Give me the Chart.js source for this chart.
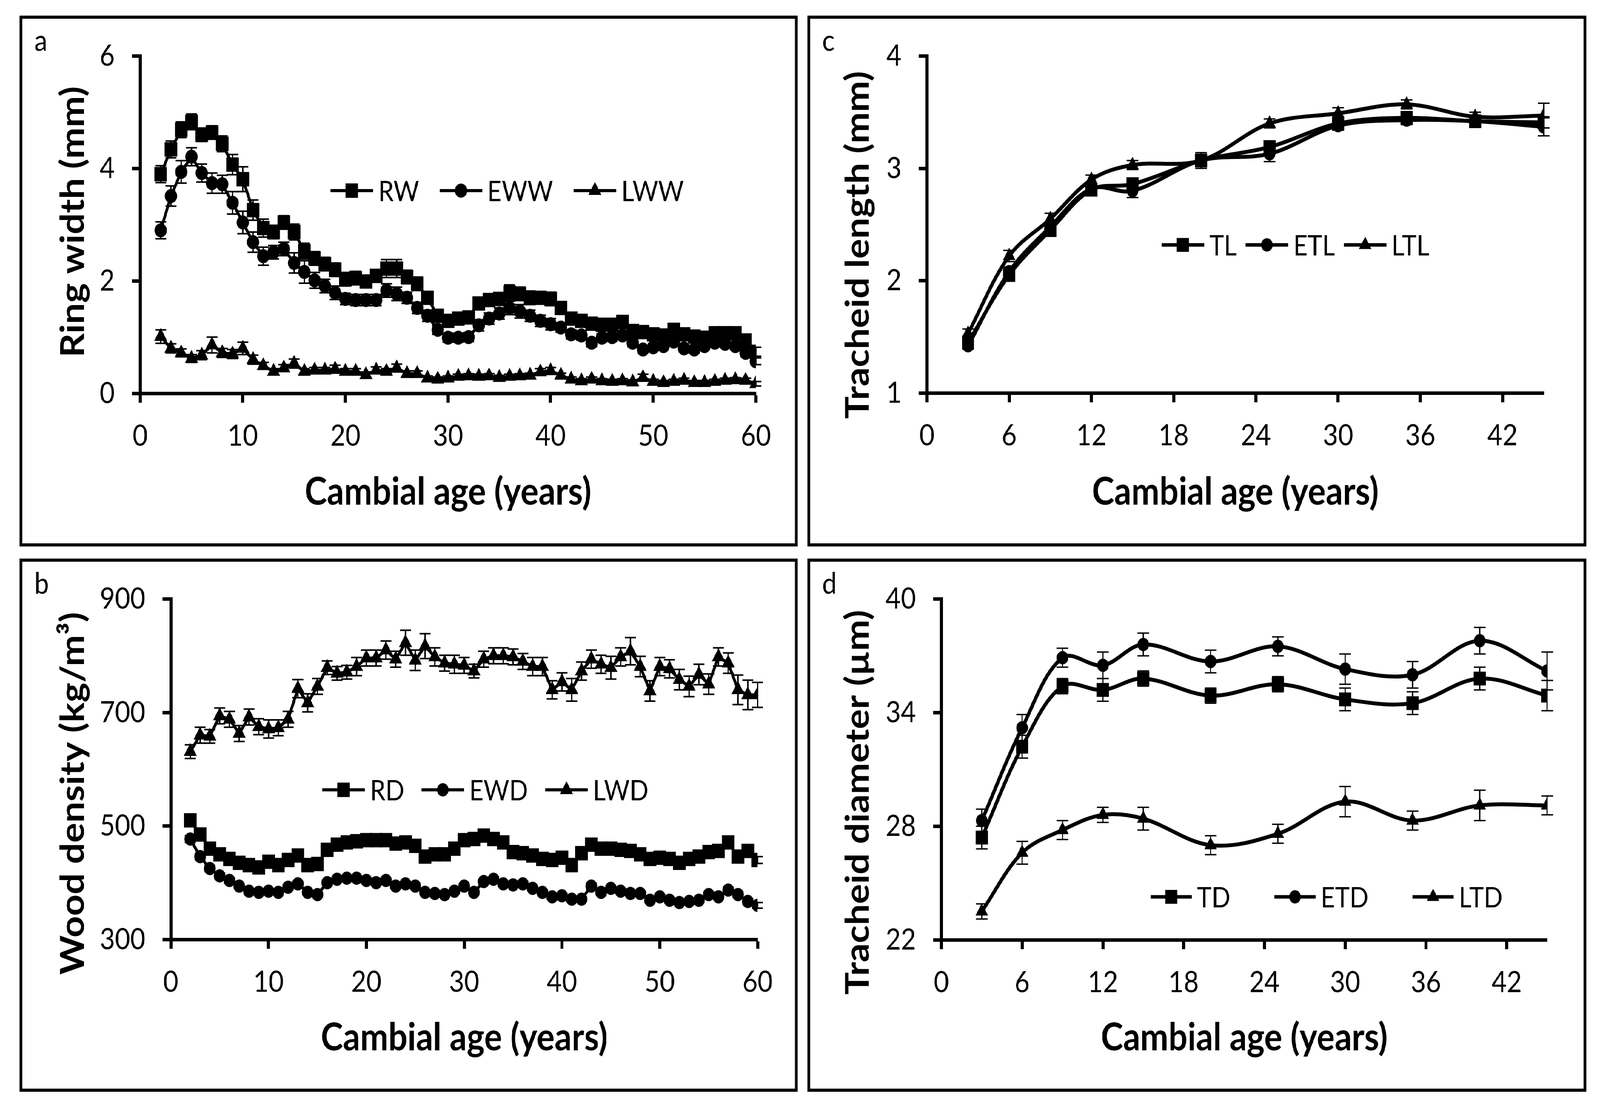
<!DOCTYPE html>
<html>
<head>
<meta charset="utf-8">
<script src="https://cdn.jsdelivr.net/npm/chart.js@4.4.1/dist/chart.umd.min.js"></script>
<style>
  html, body { margin: 0; padding: 0; background: #fff; overflow: hidden; }
  #page { width: 4657px; height: 2834px; position: absolute; left: 0; top: 0; transform-origin: 0 0; background: #fff; }
  .panel { position: absolute; border: 8px solid #000; box-sizing: border-box; background: #fff; }
  .panel .inner { position: relative; width: 100%; height: 100%; }
</style>
</head>
<body>
<div id="page">
  <div class="panel" style="left:57px;top:40px;width:2265px;height:1359px"><div class="inner"><canvas id="chartA"></canvas></div></div>
  <div class="panel" style="left:2350px;top:40px;width:2267px;height:1359px"><div class="inner"><canvas id="chartC"></canvas></div></div>
  <div class="panel" style="left:57px;top:1430px;width:2265px;height:1365px"><div class="inner"><canvas id="chartB"></canvas></div></div>
  <div class="panel" style="left:2350px;top:1430px;width:2267px;height:1365px"><div class="inner"><canvas id="chartD"></canvas></div></div>
</div>
<script>
// cambial ages for ring width and density (panels a, b)
const ages = [2, 3, 4, 5, 6, 7, 8, 9, 10, 11,
  12, 13, 14, 15, 16, 17, 18, 19, 20, 21,
  22, 23, 24, 25, 26, 27, 28, 29, 30, 31,
  32, 33, 34, 35, 36, 37, 38, 39, 40, 41,
  42, 43, 44, 45, 46, 47, 48, 49, 50, 51,
  52, 53, 54, 55, 56, 57, 58, 59, 60];

// sampled ages for tracheid panels (c, d)
const tracheidAges = [3, 6, 9, 12, 15, 20, 25, 30, 35, 40, 45];

// panel a: ring width (mm)
const rw = [3.90, 4.34, 4.69, 4.83, 4.60, 4.64, 4.44, 4.07, 3.81, 3.26,
  2.94, 2.87, 3.04, 2.87, 2.53, 2.40, 2.30, 2.20, 2.03, 2.05,
  1.99, 2.09, 2.22, 2.22, 2.07, 1.95, 1.70, 1.38, 1.29, 1.33,
  1.35, 1.60, 1.66, 1.68, 1.79, 1.77, 1.70, 1.70, 1.68, 1.52,
  1.33, 1.29, 1.24, 1.22, 1.22, 1.27, 1.11, 1.09, 1.05, 1.03,
  1.13, 1.05, 1.01, 0.99, 1.07, 1.07, 1.07, 0.94, 0.74];
const rwErr = [0.15, 0.15, 0.14, 0.14, 0.12, 0.12, 0.14, 0.18, 0.22, 0.18,
  0.16, 0.12, 0.12, 0.14, 0.14, 0.12, 0.12, 0.12, 0.12, 0.12,
  0.10, 0.10, 0.16, 0.16, 0.12, 0.12, 0.10, 0.10, 0.10, 0.08,
  0.08, 0.10, 0.10, 0.10, 0.14, 0.12, 0.12, 0.10, 0.12, 0.10,
  0.08, 0.08, 0.08, 0.08, 0.08, 0.08, 0.07, 0.07, 0.07, 0.07,
  0.07, 0.07, 0.07, 0.07, 0.07, 0.07, 0.07, 0.08, 0.08];
const eww = [2.90, 3.51, 3.94, 4.21, 3.92, 3.74, 3.72, 3.39, 3.04, 2.69,
  2.44, 2.51, 2.57, 2.32, 2.16, 2.01, 1.91, 1.79, 1.68, 1.66,
  1.66, 1.66, 1.83, 1.77, 1.70, 1.52, 1.38, 1.13, 0.99, 0.99,
  1.00, 1.21, 1.33, 1.42, 1.52, 1.46, 1.38, 1.29, 1.23, 1.17,
  1.05, 1.03, 0.90, 0.99, 1.00, 1.03, 0.90, 0.78, 0.82, 0.84,
  0.92, 0.80, 0.78, 0.84, 0.90, 0.88, 0.84, 0.72, 0.57];
const ewwErr = [0.15, 0.18, 0.20, 0.16, 0.16, 0.18, 0.16, 0.20, 0.20, 0.18,
  0.16, 0.12, 0.12, 0.18, 0.20, 0.14, 0.12, 0.12, 0.10, 0.10,
  0.10, 0.10, 0.12, 0.12, 0.10, 0.10, 0.10, 0.08, 0.08, 0.08,
  0.08, 0.10, 0.10, 0.10, 0.12, 0.12, 0.10, 0.10, 0.10, 0.08,
  0.08, 0.08, 0.07, 0.07, 0.07, 0.07, 0.07, 0.06, 0.06, 0.06,
  0.06, 0.06, 0.06, 0.06, 0.06, 0.06, 0.06, 0.06, 0.06];
const lww = [1.01, 0.80, 0.72, 0.62, 0.68, 0.86, 0.72, 0.70, 0.80, 0.60,
  0.49, 0.39, 0.45, 0.53, 0.39, 0.41, 0.41, 0.43, 0.39, 0.39,
  0.33, 0.41, 0.39, 0.45, 0.35, 0.35, 0.27, 0.25, 0.27, 0.30,
  0.31, 0.30, 0.31, 0.28, 0.30, 0.31, 0.32, 0.38, 0.40, 0.32,
  0.25, 0.22, 0.25, 0.22, 0.21, 0.22, 0.20, 0.28, 0.21, 0.19,
  0.21, 0.23, 0.19, 0.19, 0.21, 0.23, 0.24, 0.23, 0.17];
const lwwErr = [0.12, 0.08, 0.07, 0.07, 0.08, 0.14, 0.08, 0.08, 0.11, 0.08,
  0.06, 0.05, 0.06, 0.08, 0.05, 0.05, 0.05, 0.07, 0.05, 0.05,
  0.05, 0.06, 0.05, 0.07, 0.05, 0.05, 0.04, 0.04, 0.04, 0.04,
  0.04, 0.04, 0.04, 0.04, 0.04, 0.04, 0.04, 0.06, 0.06, 0.04,
  0.04, 0.04, 0.04, 0.04, 0.04, 0.04, 0.04, 0.06, 0.04, 0.04,
  0.04, 0.04, 0.04, 0.04, 0.04, 0.04, 0.04, 0.04, 0.04];

// panel b: wood density (kg/m3)
const rd = [510, 485, 460, 450, 442, 435, 431, 427, 437, 431,
  440, 448, 431, 433, 458, 467, 471, 473, 475, 475,
  475, 469, 471, 465, 446, 450, 450, 460, 475, 477,
  483, 477, 471, 454, 452, 448, 442, 440, 444, 431,
  452, 467, 460, 460, 458, 456, 450, 442, 444, 442,
  435, 442, 446, 454, 456, 471, 446, 456, 440];
const rdErr = [7, 6, 6, 5, 5, 5, 5, 5, 5, 5,
  5, 6, 5, 5, 6, 6, 6, 6, 6, 6,
  6, 6, 6, 6, 5, 5, 5, 6, 6, 6,
  6, 6, 6, 5, 5, 5, 5, 5, 5, 5,
  5, 6, 5, 5, 5, 5, 5, 5, 5, 5,
  5, 5, 5, 5, 5, 6, 6, 6, 6];
const ewd = [477, 446, 425, 412, 404, 394, 385, 383, 385, 383,
  392, 398, 383, 379, 400, 406, 408, 408, 404, 400,
  404, 394, 398, 394, 383, 381, 379, 385, 394, 383,
  402, 406, 398, 396, 398, 390, 383, 375, 377, 371,
  371, 394, 383, 390, 385, 381, 381, 369, 375, 369,
  365, 367, 369, 379, 375, 387, 379, 367, 360];
const ewdErr = [6, 5, 5, 5, 4, 4, 4, 4, 4, 4,
  4, 4, 4, 4, 4, 4, 4, 4, 4, 4,
  4, 4, 4, 4, 4, 4, 4, 4, 4, 4,
  4, 4, 4, 4, 4, 4, 4, 4, 4, 4,
  4, 5, 4, 4, 4, 4, 4, 4, 4, 4,
  4, 4, 4, 4, 4, 5, 5, 5, 5];
const lwd = [631, 660, 658, 694, 688, 663, 692, 675, 671, 673,
  688, 742, 717, 746, 779, 769, 771, 781, 796, 796,
  810, 794, 823, 792, 817, 798, 787, 785, 783, 773,
  794, 800, 800, 798, 790, 781, 781, 740, 754, 740,
  773, 794, 785, 779, 798, 808, 781, 738, 781, 777,
  758, 746, 767, 750, 798, 787, 740, 731, 731];
const lwdErr = [12, 14, 12, 14, 14, 14, 14, 14, 16, 14,
  14, 16, 16, 14, 12, 12, 12, 16, 14, 14,
  16, 14, 22, 18, 22, 16, 14, 16, 14, 12,
  14, 14, 14, 14, 14, 16, 16, 16, 16, 20,
  16, 16, 16, 20, 16, 24, 18, 18, 16, 16,
  18, 18, 18, 18, 16, 18, 26, 26, 22];

// panel c: tracheid length (mm)
const tl = [1.45, 2.05, 2.45, 2.81, 2.86, 3.07, 3.19, 3.40, 3.45, 3.42, 3.41];
const tlErr = [0.03, 0.04, 0.04, 0.04, 0.05, 0.04, 0.05, 0.04, 0.04, 0.03, 0.05];
const etl = [1.42, 2.08, 2.48, 2.82, 2.80, 3.07, 3.13, 3.38, 3.43, 3.42, 3.37];
const etlErr = [0.03, 0.04, 0.04, 0.04, 0.06, 0.04, 0.07, 0.04, 0.04, 0.03, 0.08];
const ltl = [1.53, 2.22, 2.55, 2.90, 3.03, 3.07, 3.40, 3.49, 3.57, 3.46, 3.47];
const ltlErr = [0.04, 0.05, 0.05, 0.04, 0.04, 0.07, 0.04, 0.05, 0.04, 0.04, 0.11];

// panel d: tracheid diameter (um)
const td = [27.4, 32.2, 35.4, 35.2, 35.8, 34.9, 35.5, 34.7, 34.5, 35.8, 34.9];
const tdErr = [0.6, 0.6, 0.4, 0.6, 0.4, 0.4, 0.4, 0.6, 0.6, 0.6, 0.8];
const etd = [28.3, 33.2, 36.9, 36.5, 37.6, 36.7, 37.5, 36.3, 36.0, 37.8, 36.2];
const etdErr = [0.6, 0.7, 0.5, 0.7, 0.6, 0.6, 0.5, 0.8, 0.7, 0.7, 1.0];
const ltd = [23.5, 26.6, 27.8, 28.6, 28.4, 27.0, 27.6, 29.3, 28.3, 29.1, 29.1];
const ltdErr = [0.4, 0.6, 0.5, 0.4, 0.6, 0.5, 0.5, 0.8, 0.5, 0.8, 0.5];

const FONT = "Lato";

// stretch the fixed-size figure over the whole viewport
const page = document.getElementById("page");
const sx = window.innerWidth / 4657;
const sy = window.innerHeight / 2834;
page.style.transform = `scale(${sx}, ${sy})`;

// draw a marker with the same geometry Chart.js uses
function drawMarker(ctx, style, r, x, y) {
  ctx.beginPath();
  if (style === "rect") {
    const s = Math.SQRT1_2 * r;
    ctx.rect(x - s, y - s, 2 * s, 2 * s);
  } else if (style === "triangle") {
    const a = (2 * Math.PI) / 3;
    ctx.moveTo(x, y - r);
    ctx.lineTo(x + Math.sin(a) * r, y - Math.cos(a) * r);
    ctx.lineTo(x + Math.sin(2 * a) * r, y - Math.cos(2 * a) * r);
    ctx.closePath();
  } else {
    ctx.arc(x, y, r, 0, Math.PI * 2);
  }
  ctx.fill();
}

// vertical error bars with caps, drawn under the lines
const errorBarPlugin = {
  id: "errorBars",
  beforeDatasetsDraw(chart, args, opts) {
    const { ctx } = chart;
    const xs = chart.scales.x;
    const ys = chart.scales.y;
    ctx.save();
    ctx.strokeStyle = "#000";
    ctx.lineWidth = opts.width;
    chart.data.datasets.forEach((ds) => {
      if (!ds.errors) return;
      ds.data.forEach((p, i) => {
        const e = ds.errors[i];
        const px = xs.getPixelForValue(p.x);
        const top = ys.getPixelForValue(p.y + e);
        const bot = ys.getPixelForValue(p.y - e);
        ctx.beginPath();
        ctx.moveTo(px, top);
        ctx.lineTo(px, bot);
        ctx.moveTo(px - opts.cap, top);
        ctx.lineTo(px + opts.cap, top);
        ctx.moveTo(px - opts.cap, bot);
        ctx.lineTo(px + opts.cap, bot);
        ctx.stroke();
      });
    });
    ctx.restore();
  },
};

// legend row inside the plot, Excel style
const inlineLegendPlugin = {
  id: "inlineLegend",
  afterDraw(chart, args, opts) {
    const { ctx } = chart;
    ctx.save();
    ctx.font = `${opts.size}px ${FONT}`;
    ctx.fillStyle = "#000";
    ctx.strokeStyle = "#000";
    ctx.textBaseline = "middle";
    let x = opts.x;
    chart.data.datasets.forEach((ds) => {
      ctx.lineWidth = opts.lineWidth;
      ctx.beginPath();
      ctx.moveTo(x, opts.y);
      ctx.lineTo(x + opts.line, opts.y);
      ctx.stroke();
      drawMarker(ctx, ds.pointStyle, ds.pointRadius, x + opts.line / 2, opts.y);
      const tx = x + opts.line + opts.gap;
      ctx.fillText(ds.label, tx, opts.y + 4);
      x = tx + ctx.measureText(ds.label).width + opts.spacing;
    });
    ctx.restore();
  },
};

// panel letter and rotated y-axis title
const panelTextPlugin = {
  id: "panelText",
  afterDraw(chart, args, opts) {
    const { ctx } = chart;
    ctx.save();
    ctx.fillStyle = "#000";
    ctx.font = `76px ${FONT}`;
    ctx.textBaseline = "alphabetic";
    ctx.fillText(opts.letter, 35, 82);
    ctx.translate(opts.titleX, opts.titleY);
    ctx.rotate(-Math.PI / 2);
    ctx.font = `bold 96px ${FONT}`;
    ctx.textAlign = "center";
    ctx.textBaseline = "middle";
    ctx.fillText(opts.title, 0, 0);
    ctx.restore();
  },
};

function makeSeries(xValues, label, values, errors, style, radius, width, tension) {
  return {
    label: label,
    data: xValues.map((x, i) => ({ x: x, y: values[i] })),
    errors: errors,
    borderColor: "#000",
    backgroundColor: "#000",
    borderWidth: width,
    pointStyle: style,
    pointRadius: radius,
    pointHoverRadius: radius,
    pointBorderWidth: 0,
    tension: tension,
  };
}

function makeChart(id, cfg) {
  const axisGrid = { drawOnChartArea: false, drawTicks: true, tickLength: 24, tickWidth: 9, color: "#000" };
  const axisBorder = { display: true, color: "#000", width: 9 };
  new Chart(document.getElementById(id), {
    type: "line",
    data: { datasets: cfg.datasets },
    options: {
      responsive: true,
      maintainAspectRatio: false,
      animation: false,
      events: [],
      layout: { padding: { top: cfg.area.top, right: cfg.area.right, left: 0, bottom: 0 } },
      plugins: {
        legend: { display: false },
        tooltip: { enabled: false },
        errorBars: { width: cfg.errWidth, cap: cfg.cap },
        inlineLegend: cfg.legend,
        panelText: cfg.text,
      },
      scales: {
        x: {
          type: "linear",
          min: cfg.x.min,
          max: cfg.x.max,
          ticks: {
            stepSize: cfg.x.step,
            includeBounds: false,
            autoSkip: false,
            maxRotation: 0,
            padding: 40,
            color: "#000",
            font: { family: FONT, size: 76 },
          },
          grid: axisGrid,
          border: axisBorder,
          title: {
            display: true,
            text: "Cambial age (years)",
            color: "#000",
            font: { family: FONT, size: 98, weight: "bold" },
            padding: { top: 0, bottom: cfg.area.titleBottom },
          },
          afterFit(scale) {
            scale.height = cfg.area.xHeight;
          },
        },
        y: {
          min: cfg.y.min,
          max: cfg.y.max,
          ticks: {
            stepSize: cfg.y.step,
            padding: 50,
            color: "#000",
            font: { family: FONT, size: 76 },
          },
          grid: axisGrid,
          border: axisBorder,
          afterFit(scale) {
            scale.width = cfg.area.left;
          },
        },
      },
    },
    plugins: [errorBarPlugin, inlineLegendPlugin, panelTextPlugin],
  });
}

// panel a
makeChart("chartA", {
  datasets: [
    makeSeries(ages, "RW", rw, rwErr, "rect", 26, 8, 0),
    makeSeries(ages, "EWW", eww, ewwErr, "circle", 18, 8, 0),
    makeSeries(ages, "LWW", lww, lwwErr, "triangle", 22, 8, 0),
  ],
  x: { min: 0, max: 60, step: 10 },
  y: { min: 0, max: 6, step: 2 },
  area: { left: 343, top: 80, right: 114, xHeight: 384, titleBottom: 72 },
  cap: 16,
  errWidth: 4,
  legend: { x: 897, y: 440, line: 124, gap: 15, spacing: 60, size: 72, lineWidth: 8 },
  text: { letter: "a", title: "Ring width (mm)", titleX: 148, titleY: 520 },
});

// panel c
makeChart("chartC", {
  datasets: [
    makeSeries(tracheidAges, "TL", tl, tlErr, "rect", 25, 10, 0.35),
    makeSeries(tracheidAges, "ETL", etl, etlErr, "circle", 17, 10, 0.35),
    makeSeries(tracheidAges, "LTL", ltl, ltlErr, "triangle", 21, 10, 0.35),
  ],
  x: { min: 0, max: 45, step: 6 },
  y: { min: 1, max: 4, step: 1 },
  area: { left: 340, top: 81, right: 116, xHeight: 385, titleBottom: 72 },
  cap: 17,
  errWidth: 3.5,
  legend: { x: 1023, y: 579, line: 124, gap: 15, spacing: 26, size: 72, lineWidth: 9 },
  text: { letter: "c", title: "Tracheid length (mm)", titleX: 140, titleY: 579 },
});

// panel b
makeChart("chartB", {
  datasets: [
    makeSeries(ages, "RD", rd, rdErr, "rect", 26, 8, 0),
    makeSeries(ages, "EWD", ewd, ewdErr, "circle", 17, 8, 0),
    makeSeries(ages, "LWD", lwd, lwdErr, "triangle", 22, 8, 0),
  ],
  x: { min: 0, max: 60, step: 10 },
  y: { min: 300, max: 900, step: 200 },
  area: { left: 432, top: 83, right: 109, xHeight: 382, titleBottom: 71 },
  cap: 16,
  errWidth: 4,
  legend: { x: 873, y: 584, line: 124, gap: 15, spacing: 50, size: 72, lineWidth: 8 },
  text: { letter: "b", title: "Wood density (kg/m³)", titleX: 148, titleY: 593 },
});

// panel d
makeChart("chartD", {
  datasets: [
    makeSeries(tracheidAges, "TD", td, tdErr, "rect", 25, 10, 0.35),
    makeSeries(tracheidAges, "ETD", etd, etdErr, "circle", 17, 10, 0.35),
    makeSeries(tracheidAges, "LTD", ltd, ltdErr, "triangle", 21, 10, 0.35),
  ],
  x: { min: 0, max: 45, step: 6 },
  y: { min: 22, max: 40, step: 6 },
  area: { left: 382, top: 87, right: 106, xHeight: 381, titleBottom: 71 },
  cap: 17,
  errWidth: 3.5,
  legend: { x: 991, y: 858, line: 120, gap: 15, spacing: 128, size: 72, lineWidth: 9 },
  text: { letter: "d", title: "Tracheid diameter (µm)", titleX: 140, titleY: 616 },
});
</script>
</body>
</html>
